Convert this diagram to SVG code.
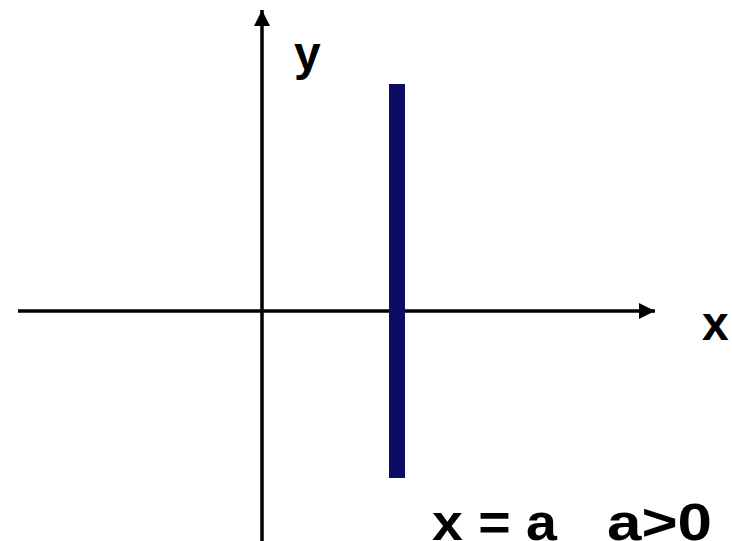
<svg xmlns="http://www.w3.org/2000/svg" width="732" height="541" viewBox="0 0 732 541">
<style>
.axis{stroke:#000;stroke-width:3.5;fill:none}
.lbl{font-family:"Liberation Sans",Arial,sans-serif;font-weight:bold;fill:#000}
</style>
<defs>
<marker id="arr" viewBox="0 0 16 16" refX="16" refY="8" markerWidth="16" markerHeight="16" markerUnits="userSpaceOnUse" orient="auto">
<path d="M0,0 L16,8 L0,16 Z" fill="#000"/>
</marker>
</defs>
<rect width="732" height="541" fill="#fff"/>
<g id="connectors">
<line class="axis" x1="18" y1="311" x2="655" y2="311" marker-end="url(#arr)"/>
<line class="axis" x1="262" y1="541" x2="262" y2="10" marker-end="url(#arr)"/>
</g>
<g id="line-xa">
<rect x="389" y="84" width="16" height="394" fill="#0c0c66"/>
</g>
<g id="label-y"><text class="lbl" x="294" y="70" font-size="48">y</text></g>
<g id="label-x"><text class="lbl" x="702" y="340" font-size="48">x</text></g>
<g id="label-eq">
<text class="lbl" font-size="52" x="432" y="540" textLength="125" lengthAdjust="spacingAndGlyphs">x = a</text>
<text class="lbl" font-size="52" x="607" y="540" textLength="105" lengthAdjust="spacingAndGlyphs">a&gt;0</text>
</g>
</svg>
